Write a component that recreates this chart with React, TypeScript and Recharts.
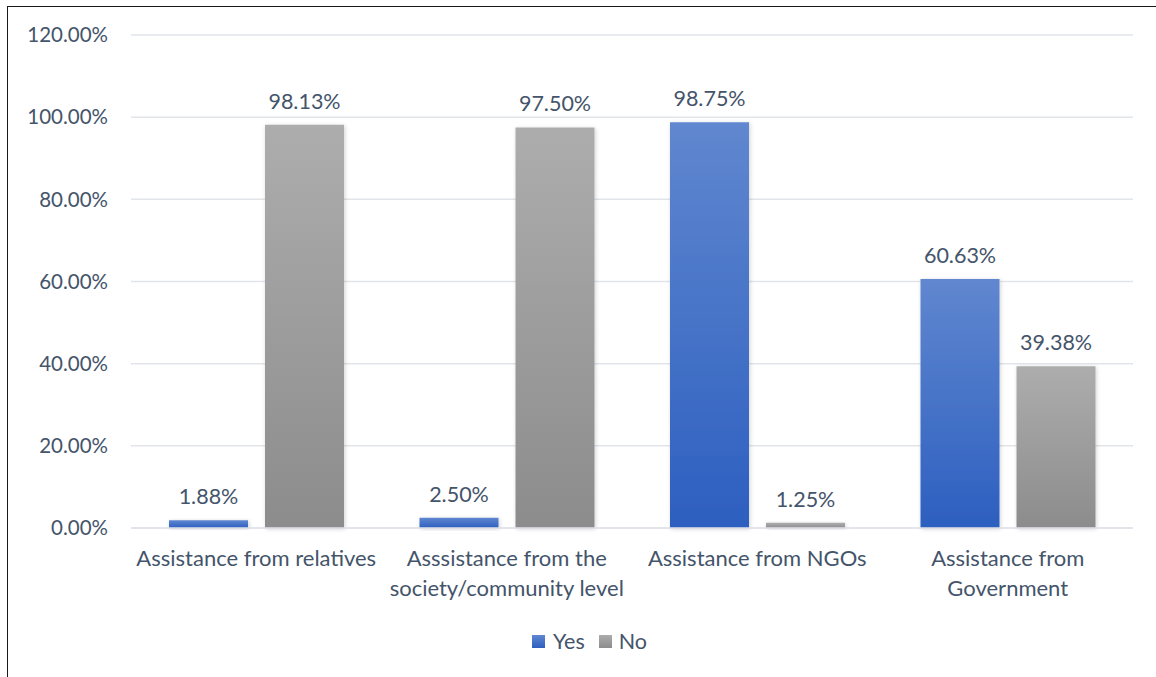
import React from 'react';
import { BarChart, Bar, XAxis, YAxis, CartesianGrid, Legend, LabelList } from 'recharts';

const categories = [
  'Assistance from relatives',
  'Asssistance from the society/community level',
  'Assistance from NGOs',
  'Assistance from Government',
];
const categoryLines = [
  ['Assistance from relatives'],
  ['Asssistance from the', 'society/community level'],
  ['Assistance from NGOs'],
  ['Assistance from', 'Government'],
];
const yesValues = [1.88, 2.5, 98.75, 60.63];
const noValues = [98.13, 97.5, 1.25, 39.38];
const yTicks = [0, 20, 40, 60, 80, 100, 120];

const data = categories.map((c, i) => ({ name: c, idx: i, yes: yesValues[i], no: noValues[i] }));

const FONT = 'Lato, "Open Sans", sans-serif';
const TEXT = '#44546A';

const fmt = (v: number) => `${v.toFixed(2)}%`;

const XTick = (props: any) => {
  const { x, y, index } = props;
  const lines = categoryLines[index] || [];
  return (
    <g>
      {lines.map((l, i) => (
        <text key={i} x={x} y={y + 32 + i * 30} textAnchor="middle" fill={TEXT} fontSize={22} fontFamily={FONT}>
          {l}
        </text>
      ))}
    </g>
  );
};

const LegendContent = () => (
  <div style={{ display: 'flex', alignItems: 'center', paddingLeft: 532, fontFamily: FONT, fontSize: 21.5, color: TEXT, height: 24 }}>
    <span style={{ display: 'inline-block', width: 13, height: 13, background: 'linear-gradient(#6087CF,#2D5FC0)', marginRight: 8 }} />
    <span style={{ marginRight: 14 }}>Yes</span>
    <span style={{ display: 'inline-block', width: 13, height: 13, background: 'linear-gradient(#ACACAC,#8C8C8C)', marginRight: 7 }} />
    <span>No</span>
  </div>
);

export default function App() {
  return (
    <div style={{ position: 'absolute', left: 0, top: 0, width: 1156, height: 677, background: '#fff' }}>
      <div style={{ position: 'absolute', left: 7, top: 6, width: 1149, height: 671, borderTop: '1.5px solid #1a1a1a', borderLeft: '1.5px solid #1a1a1a', boxSizing: 'border-box' }} />
      <BarChart
        width={1156}
        height={677}
        data={data}
        margin={{ top: 35, right: 23, left: 0, bottom: 24 }}
        barCategoryGap={38}
        barGap={17}
      >
        <defs>
          <linearGradient id="gYes" x1="0" y1="0" x2="0" y2="1">
            <stop offset="0%" stopColor="#6087CF" />
            <stop offset="100%" stopColor="#2D5FC0" />
          </linearGradient>
          <linearGradient id="gNo" x1="0" y1="0" x2="0" y2="1">
            <stop offset="0%" stopColor="#ADADAD" />
            <stop offset="100%" stopColor="#8C8C8C" />
          </linearGradient>
          <filter id="shadow" x="-20%" y="-20%" width="140%" height="140%">
            <feDropShadow dx="1" dy="1" stdDeviation="2" floodColor="#000" floodOpacity="0.18" />
          </filter>
        </defs>
        <CartesianGrid vertical={false} stroke="#E1E5EA" strokeWidth={1.5} />
        <XAxis
          dataKey="name"
          axisLine={{ stroke: '#E1E5EA', strokeWidth: 1.5 }}
          tickLine={false}
          tickMargin={0}
          height={101}
          interval={0}
          tick={<XTick />}
        />
        <YAxis
          domain={[0, 120]}
          ticks={yTicks}
          tickFormatter={fmt}
          axisLine={false}
          tickLine={false}
          width={131}
          tickMargin={17}
          tick={{ fill: TEXT, fontSize: 20.5, fontFamily: FONT }}
        />
        <Legend verticalAlign="bottom" wrapperStyle={{ left: 0, width: 1156 }} content={<LegendContent />} />
        <Bar dataKey="yes" name="Yes" fill="url(#gYes)" isAnimationActive={false} filter="url(#shadow)">
          <LabelList dataKey="yes" position="top" offset={16} formatter={(v: any) => fmt(Number(v))} fill={TEXT} fontSize={21.5} fontFamily={FONT} />
        </Bar>
        <Bar dataKey="no" name="No" fill="url(#gNo)" isAnimationActive={false} filter="url(#shadow)">
          <LabelList dataKey="no" position="top" offset={16} formatter={(v: any) => fmt(Number(v))} fill={TEXT} fontSize={21.5} fontFamily={FONT} />
        </Bar>
      </BarChart>
    </div>
  );
}
